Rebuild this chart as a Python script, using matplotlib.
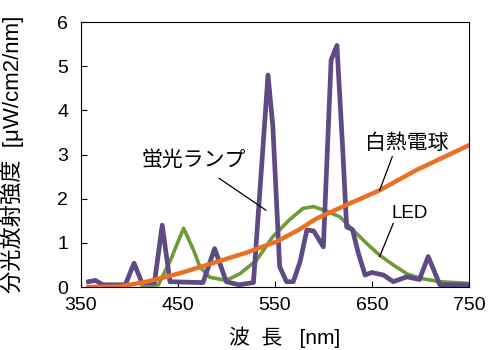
import numpy as np
import matplotlib
matplotlib.use("Agg")
import matplotlib.pyplot as plt

plt.rcParams['font.family'] = ['Liberation Sans', 'Noto Sans CJK JP', 'DejaVu Sans']

# 蛍光ランプ
fl_wl = [358, 365, 373, 396, 405, 413, 426, 434, 442, 476, 488, 500, 513, 528,
         543, 548, 555, 562, 569, 576, 583, 590, 600, 608, 614, 620, 624, 630,
         636, 643, 650, 662, 672, 686, 699, 708, 720, 750]
fl_val = [0.12, 0.15, 0.05, 0.05, 0.54, 0.10, 0.10, 1.40, 0.12, 0.10, 0.87, 0.12,
          0.05, 0.10, 4.80, 3.63, 0.46, 0.12, 0.12, 0.57, 1.29, 1.27, 0.91, 5.14,
          5.47, 3.10, 1.36, 1.30, 0.77, 0.27, 0.33, 0.27, 0.12, 0.23, 0.17, 0.69,
          0.05, 0.05]

# LED
led_wl = [413, 430, 442, 456, 466, 473, 483, 500, 514, 531, 548, 565, 579, 590,
          603, 617, 630, 644, 658, 672, 686, 699, 720, 750]
led_val = [0.0, 0.05, 0.58, 1.33, 0.85, 0.45, 0.22, 0.15, 0.30, 0.60, 1.14, 1.52,
           1.78, 1.82, 1.72, 1.59, 1.30, 1.00, 0.72, 0.50, 0.30, 0.20, 0.12, 0.08]

# 白熱電球
inc_wl = [358, 390, 418, 452, 486, 521, 552, 575, 593, 627, 658, 696, 750]
inc_val = [0.0, 0.01, 0.12, 0.31, 0.54, 0.78, 1.03, 1.30, 1.55, 1.89, 2.19, 2.65,
           3.21]

xticks = [350, 450, 550, 650, 750]
yticks = [0, 1, 2, 3, 4, 5, 6]

fig = plt.figure(figsize=(4.89, 3.5), dpi=100)
ax = fig.add_axes([0.165, 0.18, 0.794, 0.757])

ax.plot(led_wl, led_val, color='#6f9a3a', lw=2.6, solid_joinstyle='round')
ax.plot(fl_wl, fl_val, color='#5e4a85', lw=3.4, solid_joinstyle='round')
ax.plot(inc_wl, inc_val, color='#ea7124', lw=3.2, solid_joinstyle='round')

ax.set_xlim(350, 750)
ax.set_ylim(0, 6)
ax.set_xticks(xticks)
ax.set_yticks(yticks)
ax.tick_params(direction='in', length=4, width=0.8, labelsize=14)
ax.tick_params(axis='x', pad=7)
ax.tick_params(axis='y', pad=9)
for sp in ax.spines.values():
    sp.set_linewidth(0.8)

ax.set_xlabel('波  長   [nm]', fontsize=15)
ax.xaxis.set_label_coords(0.526, -0.15)
ax.set_ylabel('分光放射強度  [μW/cm2/nm]', fontsize=16)
ax.yaxis.set_label_coords(-0.145, 0.5)

# 注記と引き出し線
ax.text(466, 2.87, '蛍光ランプ', fontsize=15, ha='center', va='center')
ax.plot([492.7, 540.8], [2.46, 1.74], color='black', lw=0.9)
ax.text(686, 3.25, '白熱電球', fontsize=15, ha='center', va='center')
ax.plot([671, 658], [2.95, 2.19], color='black', lw=0.9)
ax.text(689, 1.67, 'LED', fontsize=13.5, ha='center', va='center')
ax.plot([672, 658], [1.44, 0.69], color='black', lw=0.9)

fig.savefig('out.png', dpi=100)
